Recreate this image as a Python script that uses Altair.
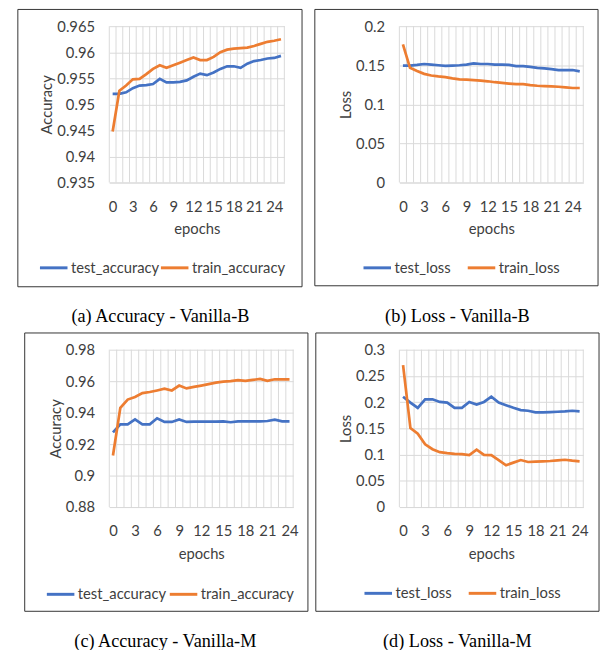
import altair as alt
import numpy as np
import pandas as pd

BLUE = "#4472C4"
ORANGE = "#ED7D31"
GRID = "#D9D9D9"
TXT = "#404040"
FONT = "Lato"
FS = 15

# ---- data ----
epochs_B = list(range(26))
epochs_M = list(range(25))

a_test = [0.952, 0.952, 0.9523, 0.9531, 0.9536, 0.9537, 0.9539, 0.9549, 0.9542, 0.9542,
          0.9543, 0.9546, 0.9553, 0.9559, 0.9556, 0.9561, 0.9568, 0.9573, 0.9573, 0.957,
          0.9578, 0.9583, 0.9585, 0.9588, 0.9589, 0.9593]
a_train = [0.9448, 0.9526, 0.9536, 0.9548, 0.9549, 0.9558, 0.9568, 0.9575, 0.957, 0.9575,
           0.958, 0.9585, 0.959, 0.9585, 0.9585, 0.9591, 0.96, 0.9605, 0.9607, 0.9608,
           0.9609, 0.9612, 0.9616, 0.962, 0.9622, 0.9625]

b_test = [0.1496, 0.1496, 0.1504, 0.1516, 0.1508, 0.150, 0.1492, 0.1496, 0.150, 0.1508,
          0.1525, 0.1516, 0.1516, 0.1508, 0.1508, 0.1504, 0.149, 0.1488, 0.148, 0.1467,
          0.146, 0.145, 0.1439, 0.1439, 0.1439, 0.1422]
b_train = [0.1766, 0.1467, 0.1426, 0.139, 0.1369, 0.1357, 0.1348, 0.1332, 0.132, 0.1316,
           0.1311, 0.1303, 0.1295, 0.1283, 0.1275, 0.1266, 0.1258, 0.1258, 0.1246, 0.1238,
           0.1234, 0.123, 0.1225, 0.1217, 0.1209, 0.1209]

c_test = [0.9274, 0.9326, 0.9326, 0.9357, 0.9326, 0.9326, 0.9364, 0.9341, 0.9341, 0.9357,
          0.9341, 0.9343, 0.9343, 0.9343, 0.9343, 0.9345, 0.9339, 0.9345, 0.9345, 0.9345,
          0.9345, 0.9347, 0.9355, 0.9345, 0.9345]
c_train = [0.9128, 0.943, 0.9483, 0.9499, 0.9524, 0.9531, 0.9541, 0.9552, 0.9541, 0.9572,
           0.9554, 0.9564, 0.9572, 0.9581, 0.9591, 0.9597, 0.96, 0.9606, 0.9602, 0.9608,
           0.9614, 0.9602, 0.9612, 0.9612, 0.9612]

d_test = [0.2104, 0.1992, 0.1892, 0.2054, 0.2054, 0.2004, 0.1992, 0.1892, 0.1892, 0.2004,
          0.1954, 0.2004, 0.2104, 0.1992, 0.1942, 0.1892, 0.1849, 0.1836, 0.1805, 0.1805,
          0.1811, 0.1817, 0.1824, 0.1836, 0.1824]
d_train = [0.2707, 0.1506, 0.14, 0.1195, 0.1102, 0.1046, 0.1027, 0.1014, 0.1008, 0.099,
           0.1095, 0.0996, 0.099, 0.0896, 0.0797, 0.0847, 0.0896, 0.0859, 0.0865, 0.0871,
           0.0878, 0.089, 0.0902, 0.0884, 0.0871]

x_ticks = [0, 3, 6, 9, 12, 15, 18, 21, 24]
yt_a = [0.935, 0.94, 0.945, 0.95, 0.955, 0.96, 0.965]
yt_b = [0, 0.05, 0.1, 0.15, 0.2]
yt_c = [0.88, 0.9, 0.92, 0.94, 0.96, 0.98]
yt_d = [0, 0.05, 0.1, 0.15, 0.2, 0.25, 0.3]

captions = ["(a) Accuracy - Vanilla-B", "(b) Loss - Vanilla-B",
            "(c) Accuracy - Vanilla-M", "(d) Loss - Vanilla-M"]


def panel(epochs, test, train, names, ytitle, yticks, w, h, frame, leg, colpad, caption, cap):
    n = len(epochs)
    df = pd.DataFrame({
        "epoch": epochs + epochs,
        "value": test + train,
        "series": [names[0]] * n + [names[1]] * n,
    })
    xscale = alt.Scale(domain=[-0.5, n - 0.5], nice=False, zero=False)
    xaxis = alt.Axis(values=x_ticks, grid=False, ticks=False, tickSize=0, domain=True,
                     domainColor=GRID, labelPadding=17, title="epochs", titlePadding=8)
    bounds = pd.DataFrame({"b": np.arange(n + 1) - 0.5})
    vgrid = alt.Chart(bounds).mark_rule(color=GRID, strokeWidth=1).encode(
        x=alt.X("b:Q", scale=xscale, axis=xaxis)
    )
    lines = alt.Chart(df).mark_line(strokeWidth=2.75).encode(
        x=alt.X("epoch:Q", scale=xscale, axis=xaxis),
        y=alt.Y("value:Q",
                scale=alt.Scale(domain=[yticks[0], yticks[-1]], nice=False, zero=False),
                axis=alt.Axis(values=yticks, format=".3~f", grid=True, gridColor=GRID,
                              domain=False, ticks=False, tickSize=0, labelPadding=15,
                              title=ytitle, titlePadding=2)),
        color=alt.Color("series:N",
                        scale=alt.Scale(domain=names, range=[BLUE, ORANGE]),
                        legend=alt.Legend(orient="none", legendX=leg[0], legendY=leg[1],
                                          direction="horizontal", columns=2, title=None,
                                          symbolType="stroke", symbolSize=784,
                                          symbolStrokeWidth=3, labelOffset=2,
                                          columnPadding=colpad, padding=0,
                                          labelFont=FONT, labelFontSize=FS,
                                          labelColor=TXT)),
    )
    one = pd.DataFrame({"k": [0]})
    box = alt.Chart(one).mark_rect(fill="white", fillOpacity=0, stroke="#333333",
                                   strokeWidth=1).encode(
        x=alt.value(frame[0]), x2=alt.value(w + frame[1]),
        y=alt.value(frame[2]), y2=alt.value(h + frame[3]),
    )
    cap_t = alt.Chart(one).mark_text(text=caption, font="Liberation Serif", fontSize=18.5,
                                     color="black", align="center", baseline="middle").encode(
        x=alt.value(cap[0]), y=alt.value(cap[1])
    )
    return alt.layer(vgrid, lines, box, cap_t).properties(width=w, height=h)


pa = panel(epochs_B, a_test, a_train, ["test_accuracy", "train_accuracy"], "Accuracy", yt_a,
           178, 159, (-93, 18, -17, 106), (-72, 230), -5, captions[0], (52, 295))
pb = panel(epochs_B, b_test, b_train, ["test_loss", "train_loss"], "Loss", yt_b,
           187, 159, (-86, 15, -17, 105), (-38, 230), 10, captions[1], (59, 295))
pc = panel(epochs_M, c_test, c_train, ["test_accuracy", "train_accuracy"], "Accuracy", yt_c,
           187, 160, (-86, 15, -17, 106), (-65, 233), -3, captions[2], (57, 296))
pd_ = panel(epochs_M, d_test, d_train, ["test_loss", "train_loss"], "Loss", yt_d,
            187, 160, (-85, 16, -17, 106), (-37, 232), 10, captions[3], (59, 296))

chart = alt.concat(pa, pb, pc, pd_, columns=2, spacing={"row": 6, "column": 5}).resolve_scale(
    color="independent"
).properties(
    padding={"left": 9, "top": -5, "right": 0, "bottom": 0}
).configure_view(stroke=None).configure_axis(
    labelFont=FONT, labelFontSize=FS, labelColor=TXT,
    titleFont=FONT, titleFontSize=FS, titleColor=TXT, titleFontWeight="normal",
)

chart.save("out.html", embed_options={"renderer": "svg", "actions": False})
